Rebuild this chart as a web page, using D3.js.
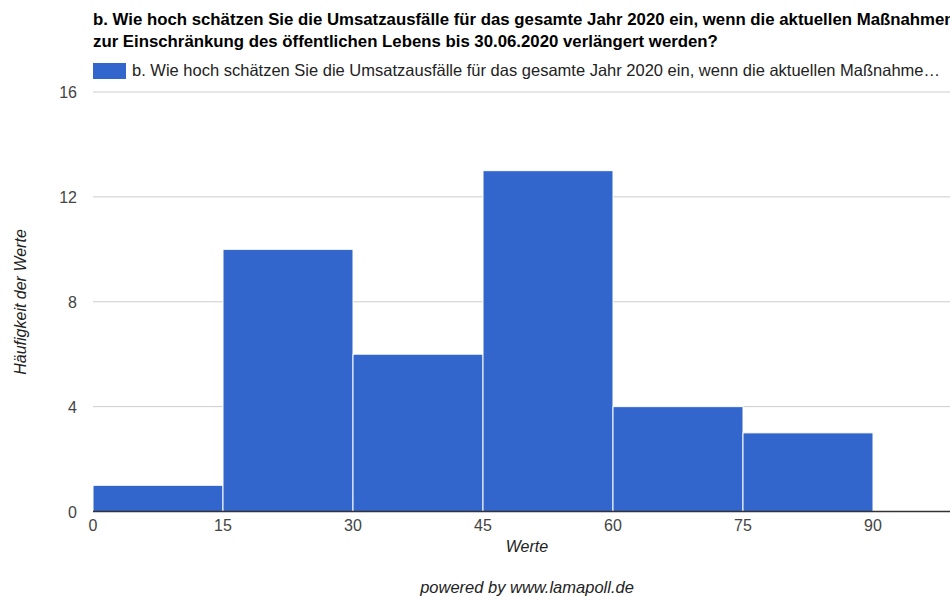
<!DOCTYPE html>
<html>
<head>
<meta charset="utf-8">
<script src="https://cdn.jsdelivr.net/npm/d3@7"></script>
<style>
  html, body { margin: 0; padding: 0; background: #fff; }
  svg { display: block; font-family: Arial, "Liberation Sans", sans-serif; }
</style>
</head>
<body>
<svg id="chart" width="950" height="596"></svg>
<script>
// Histogram bins (lower edge, upper edge) and their counts
const binStarts = [0, 15, 30, 45, 60, 75];
const binEnds = [15, 30, 45, 60, 75, 90];
const counts = [1, 10, 6, 13, 4, 3];
const xTicks = [0, 15, 30, 45, 60, 75, 90];
const yTicks = [0, 4, 8, 12, 16];

const titleLines = [
  "b. Wie hoch schätzen Sie die Umsatzausfälle für das gesamte Jahr 2020 ein, wenn die aktuellen Maßnahmen",
  "zur Einschränkung des öffentlichen Lebens bis 30.06.2020 verlängert werden?"
];
const legendLabel = "b. Wie hoch schätzen Sie die Umsatzausfälle für das gesamte Jahr 2020 ein, wenn die aktuellen Maßnahme…";

(function () {
  const svg = d3.select("#chart");
  const plotLeft = 93, plotBottom = 511.5, plotTop = 92;

  const x = d3.scaleLinear().domain([0, 105]).range([plotLeft, plotLeft + 130 * 7]);
  const y = d3.scaleLinear().domain([0, 16]).range([plotBottom, plotTop]);

  // Title
  svg.append("g").selectAll("text").data(titleLines).join("text")
    .attr("x", plotLeft).attr("y", (d, i) => 25 + i * 22)
    .attr("font-size", 16.8).attr("font-weight", "bold").attr("fill", "#000")
    .text(d => d);

  // Legend
  svg.append("rect").attr("x", plotLeft).attr("y", 63).attr("width", 33).attr("height", 16).attr("fill", "#3366cc");
  svg.append("text").attr("x", 132).attr("y", 76).attr("font-size", 16.5).attr("fill", "#222").text(legendLabel);

  // Horizontal gridlines
  svg.append("g").selectAll("line").data(yTicks.filter(d => d > 0)).join("line")
    .attr("x1", plotLeft).attr("x2", 950)
    .attr("y1", d => y(d)).attr("y2", d => y(d))
    .attr("stroke", "#cccccc").attr("stroke-width", 1);

  // Y tick labels
  svg.append("g").selectAll("text").data(yTicks).join("text")
    .attr("x", 77).attr("y", d => y(d) + 6)
    .attr("text-anchor", "end").attr("font-size", 16).attr("fill", "#444")
    .text(d => d);

  // Bars
  const bins = binStarts.map((s, i) => ({ s, e: binEnds[i], c: counts[i] }));
  svg.append("g").selectAll("rect").data(bins).join("rect")
    .attr("x", d => x(d.s)).attr("width", d => x(d.e) - x(d.s))
    .attr("y", d => y(d.c)).attr("height", d => y(0) - y(d.c))
    .attr("fill", "#3366cc").attr("stroke", "#ffffff").attr("stroke-width", 1);

  // Baseline
  svg.append("line").attr("x1", plotLeft).attr("x2", 950).attr("y1", plotBottom).attr("y2", plotBottom)
    .attr("stroke", "#333").attr("stroke-width", 1.5);

  // X tick labels
  svg.append("g").selectAll("text").data(xTicks).join("text")
    .attr("x", d => x(d)).attr("y", 531)
    .attr("text-anchor", "middle").attr("font-size", 16).attr("fill", "#444")
    .text(d => d);

  // Axis titles
  svg.append("text").attr("x", 527).attr("y", 552).attr("text-anchor", "middle")
    .attr("font-size", 16).attr("font-style", "italic").attr("fill", "#222").text("Werte");
  svg.append("text").attr("transform", "translate(26,302) rotate(-90)").attr("text-anchor", "middle")
    .attr("font-size", 16).attr("font-style", "italic").attr("fill", "#222").text("Häufigkeit der Werte");

  // Footer
  svg.append("text").attr("x", 527).attr("y", 593).attr("text-anchor", "middle")
    .attr("font-size", 16.5).attr("font-style", "italic").attr("fill", "#222").text("powered by www.lamapoll.de");
})();
</script>
</body>
</html>
